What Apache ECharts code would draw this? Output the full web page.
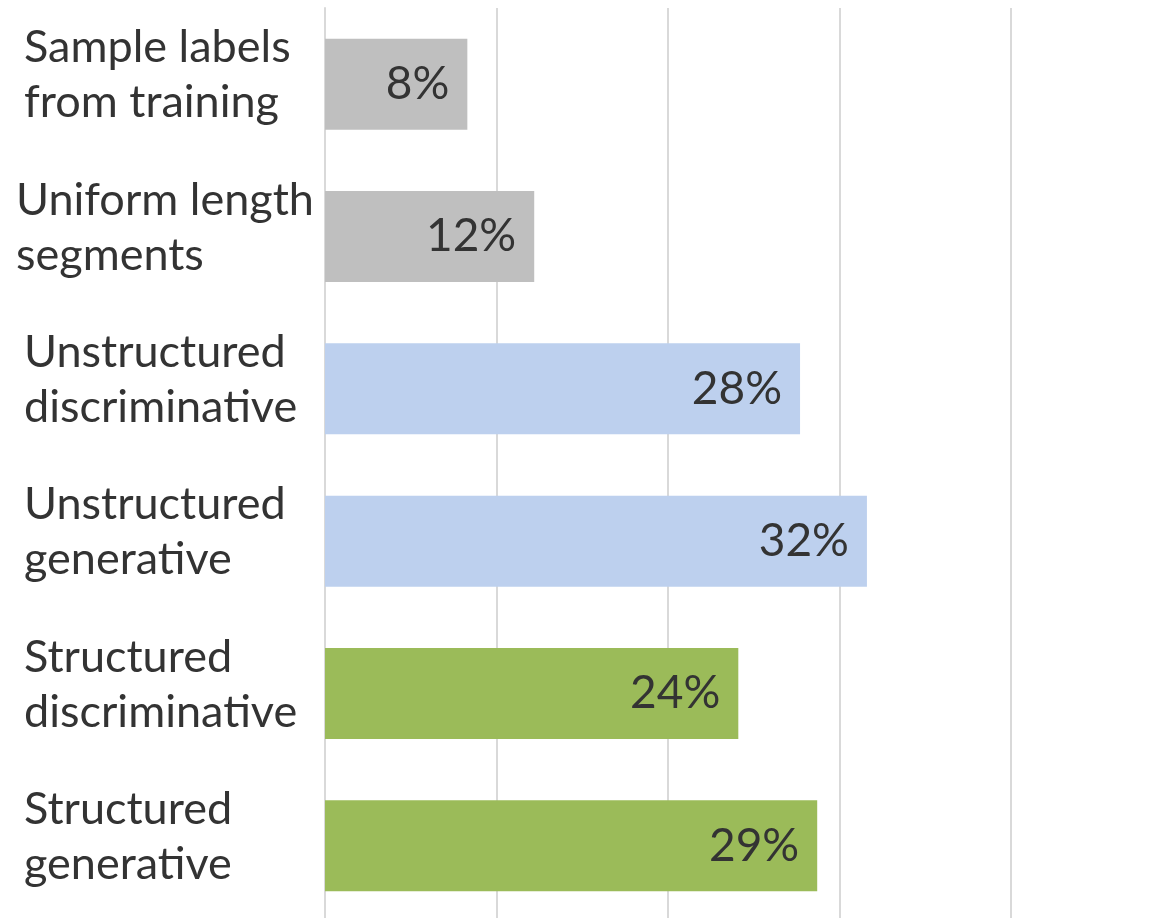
<!DOCTYPE html>
<html>
<head>
<meta charset="utf-8">
<script src="https://cdn.jsdelivr.net/npm/echarts@6/dist/echarts.min.js"></script>
<style>
    html, body { margin: 0; padding: 0; background: #fff; }
    #chart { width: 1173px; height: 918px; }
</style>
</head>
<body>
<div id="chart"></div>
<script>
// 数据（从上到下）
const categories = [
    'Sample labels\nfrom training',
    'Uniform length\nsegments',
    'Unstructured\ndiscriminative',
    'Unstructured\ngenerative',
    'Structured\ndiscriminative',
    'Structured\ngenerative'
];
const values = [8.3, 12.2, 27.7, 31.6, 24.1, 28.7]; // 百分比
const barColors = ['#BFBFBF', '#BFBFBF', '#BDD0EE', '#BDD0EE', '#9BBB59', '#9BBB59'];
const axisTicks = [0, 10, 20, 30, 40];

const chart = echarts.init(document.getElementById('chart'));

const labelFont = { color: '#333333', fontFamily: 'Lato', fontSize: 45, lineHeight: 55 };

// 标签整体上移：末尾加一行空白；最宽的一条不缩进
function formatCategory(v) {
    const style = v.indexOf('Uniform') === 0 ? 'w' : 'n';
    return v.split('\n').map(line => '{' + style + '|' + line + '}').join('\n') + '\n{s|}';
}

chart.setOption({
    animation: false,
    grid: { left: 325, top: 8, width: 686, height: 914, outerBoundsMode: 'none' },
    xAxis: {
        type: 'value',
        min: axisTicks[0],
        max: axisTicks[axisTicks.length - 1],
        interval: axisTicks[1] - axisTicks[0],
        axisLabel: { show: false },
        axisLine: { show: false },
        axisTick: { show: false },
        splitLine: { lineStyle: { color: '#D9D9D9', width: 2 } }
    },
    yAxis: {
        type: 'category',
        inverse: true,
        data: categories,
        axisLine: { show: true, lineStyle: { color: '#D9D9D9', width: 2 } },
        axisTick: { show: false },
        axisLabel: {
            align: 'left',
            margin: 309,
            formatter: formatCategory,
            rich: {
                n: Object.assign({ padding: [0, 0, 0, 8] }, labelFont),
                w: Object.assign({}, labelFont),
                s: { fontSize: 10, lineHeight: 18 }
            }
        }
    },
    series: [{
        type: 'bar',
        barWidth: 91,
        data: values.map((v, i) => ({ value: v, itemStyle: { color: barColors[i] } })),
        label: {
            show: true,
            position: 'insideRight',
            distance: 18,
            color: '#333333',
            fontFamily: 'Lato',
            fontSize: 46,
            formatter: p => Math.round(p.value) + '%'
        }
    }]
});
</script>
</body>
</html>
